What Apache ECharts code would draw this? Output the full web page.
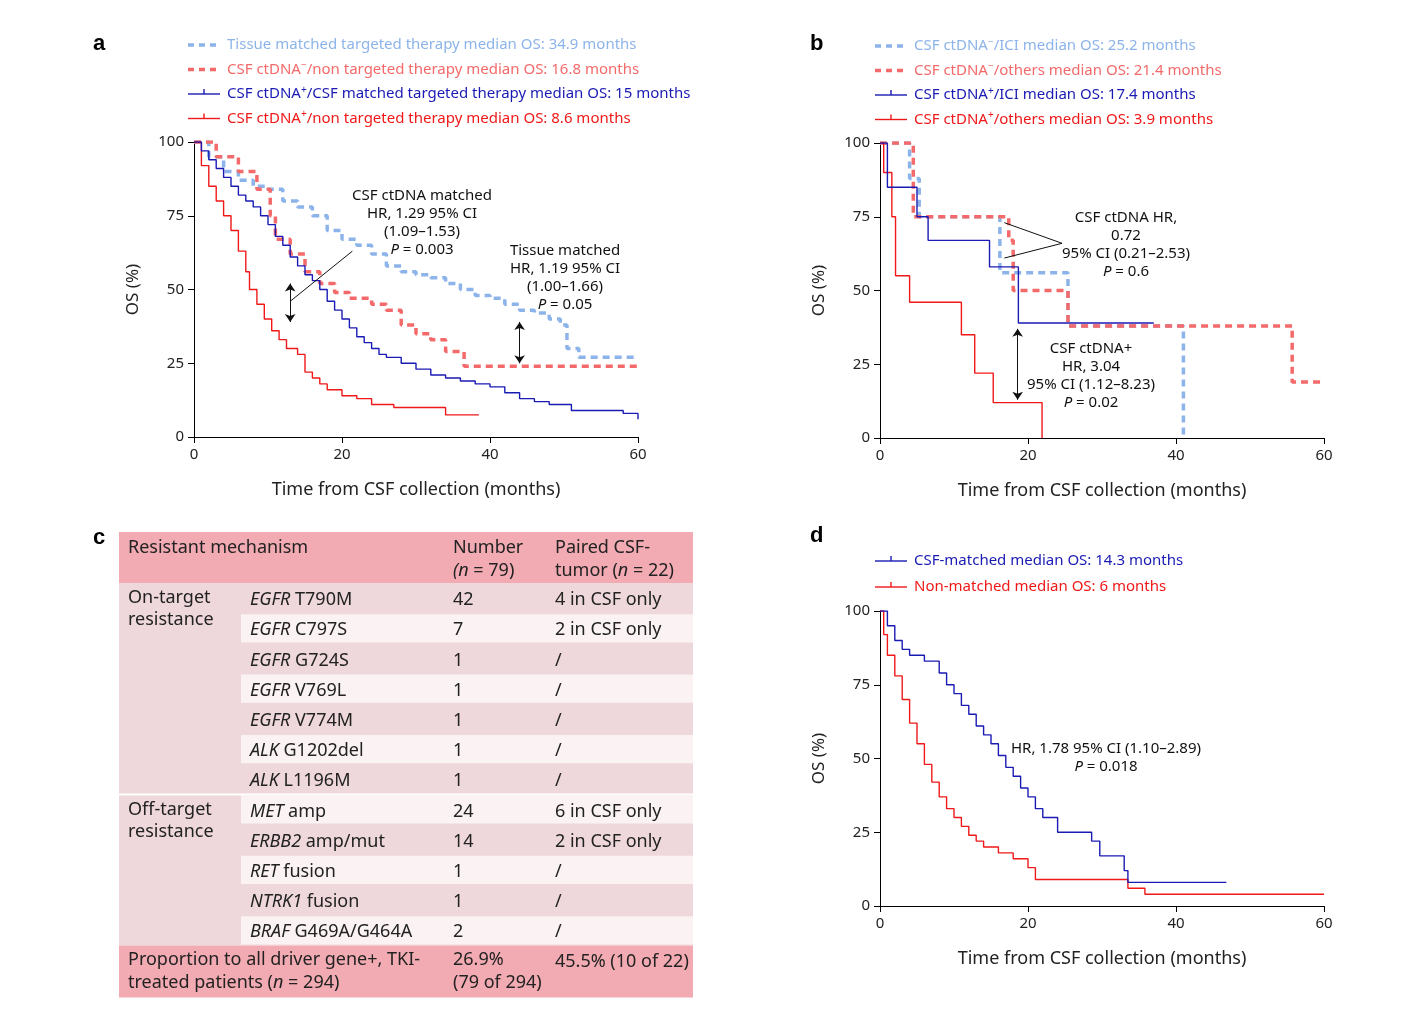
<!DOCTYPE html>
<html><head><meta charset="utf-8">
<script src="https://cdn.jsdelivr.net/npm/echarts@6/dist/echarts.min.js"></script>
<style>html,body{margin:0;background:#fff}#c{width:1410px;height:1024px}</style>
</head><body><div id="c"></div>
<script>
// ---------- DATA ----------
// Panel a (time of drop, new OS %)
const aTissue = [[0,100],[2,95],[4,90],[6,87],[8,85],[10,84],[12,80],[14,78],[16,75],[18,70],[20,67],[22,65],[24,62],[26,58],[28,56],[30,55],[32,54],[34,52],[36,50],[38,48],[40,47],[42,45],[44,43],[46,42],[48,40],[49.5,38],[50.4,30],[52,27],[60,27]];
const aNegNon = [[0,100],[3,95],[6,90],[8.5,84],[10.3,75],[11,67],[13,62],[15,56],[17,52],[19,49],[21,47],[24,45],[26,43],[28,38],[30,35],[32,33],[34,29],[36.5,24],[60,24]];
const aPosMatched = [[0,100],[1,97],[2,94],[3,91],[4,88],[5,85],[6,82],[7,80],[8,78],[9,75],[10,72],[11,68],[12,65],[13,61],[14,58],[15,55],[16,53],[17,50],[18,46],[19,43],[20,40],[21,37],[22,34],[23,32],[24,30],[25,28],[26,27],[28,25],[30,23],[32,21],[34,20],[36,19],[38,18],[40,17],[42,15],[44,13],[46,12],[48,11],[51,9],[55,9],[58,8],[60,6]];
const aPosNon = [[0,100],[1,92],[2,85],[3,80],[4,75],[5,70],[6,63],[7,56],[7.5,50],[8.5,45],[9.5,40],[10.5,36],[11.5,33],[12.5,30],[14,28],[15,22],[16,20],[17,18],[18,16],[20,14],[22,13],[24,11],[27,10],[34,7.5],[38.5,7.5]];
// Panel b
const bNegICI = [[0,100],[4,88],[5.3,75],[16.2,56],[25.4,38],[41,0]];
const bNegOth = [[0,100],[4.5,75],[17.4,67],[18,50],[25.4,38],[55.7,19],[60,19]];
const bPosICI = [[0,100],[1,85],[5,75],[6.5,67],[14,67],[14.8,58],[18.7,39],[37,39]];
const bPosOth = [[0,100],[0.5,90],[1.6,75],[2.1,55],[4,46],[11,35],[12.8,22],[15.3,12],[21.9,0]];
// Panel d
const dMatched = [[0,100],[1,95],[2,90],[3,87],[4,85],[6,83],[8,79],[9,75],[10,72],[11,68],[12,65],[13,61],[14,58],[15,55],[16,51],[17,47],[18,44],[19,40],[20,37],[21,33],[22,30],[24,25],[28.6,22],[29.7,17],[33,12],[33.5,8],[46.8,8]];
const dNon = [[0,100],[0.5,92],[1,85],[2,78],[3,70],[4,62],[5,55],[6,48],[7,42],[8,37],[9,33],[10,30],[11,27],[12,24],[13,22],[14,20],[16,18],[18,16],[20,13],[21,9],[33.5,6],[35.8,4],[60,4]];

const xTicks = [0,20,40,60];
const yTicks = [0,25,50,75,100];

const legendA = ['{n|Tissue matched targeted therapy median OS: 34.9 months}',
  '{n|CSF ctDNA}{s|−}{n|/non targeted therapy median OS: 16.8 months}',
  '{n|CSF ctDNA}{s|+}{n|/CSF matched targeted therapy median OS: 15 months}',
  '{n|CSF ctDNA}{s|+}{n|/non targeted therapy median OS: 8.6 months}'];
const legendB = ['{n|CSF ctDNA}{s|−}{n|/ICI median OS: 25.2 months}',
  '{n|CSF ctDNA}{s|−}{n|/others median OS: 21.4 months}',
  '{n|CSF ctDNA}{s|+}{n|/ICI median OS: 17.4 months}',
  '{n|CSF ctDNA}{s|+}{n|/others median OS: 3.9 months}'];
const legendD = ['CSF-matched median OS: 14.3 months','Non-matched median OS: 6 months'];

const tableHeader = ['Resistant mechanism','{n|Number}\n{i|(n}{n| = 79)}','{n|Paired CSF-}\n{n|tumor (}{i|n}{n| = 22)}'];
const tableGroups = [['On-target\nresistance',0,7],['Off-target\nresistance',7,5]];
const tableRows = [
  ['EGFR',' T790M','42','4 in CSF only'],
  ['EGFR',' C797S','7','2 in CSF only'],
  ['EGFR',' G724S','1','/'],
  ['EGFR',' V769L','1','/'],
  ['EGFR',' V774M','1','/'],
  ['ALK',' G1202del','1','/'],
  ['ALK',' L1196M','1','/'],
  ['MET',' amp','24','6 in CSF only'],
  ['ERBB2',' amp/mut','14','2 in CSF only'],
  ['RET',' fusion','1','/'],
  ['NTRK1',' fusion','1','/'],
  ['BRAF',' G469A/G464A','2','/']];
const tableFooter = ['{n|Proportion to all driver gene+, TKI-}\n{n|treated patients (}{i|n}{n| = 294)}','26.9%\n(79 of 294)','45.5% (10 of 22)'];

// ---------- STYLE ----------
const F = 'Noto Sans';
const C = {lb:'#8db4ea', ls:'#f46a6a', db:'#1a1ab4', rd:'#f01818'};

const grids = [
  {left:194, top:142, width:444, height:295},
  {left:880, top:143, width:444, height:295},
  {left:880, top:611, width:444, height:295}];

function xAx(i){return {gridIndex:i,type:'value',min:0,max:60,interval:20,
  axisLine:{lineStyle:{color:'#000',width:1}},axisTick:{length:6,lineStyle:{color:'#000'}},
  splitLine:{show:false},axisLabel:{color:'#222',fontSize:15,fontFamily:F,margin:10},
  name:'Time from CSF collection (months)',nameLocation:'middle',nameGap:44,
  nameTextStyle:{fontSize:18,fontFamily:F,color:'#222'}};}
function yAx(i){return {gridIndex:i,type:'value',min:0,max:100,interval:25,
  axisLine:{show:true,lineStyle:{color:'#000',width:1}},axisTick:{show:true,length:6,lineStyle:{color:'#000'}},
  splitLine:{show:false},axisLabel:{color:'#222',fontSize:15,fontFamily:F,margin:10},
  name:'OS (%)',nameLocation:'middle',nameGap:52,nameRotate:90,
  nameTextStyle:{fontSize:17,fontFamily:F,color:'#222'}};}

function ser(data,g,color,dashed,extra){
  return Object.assign({type:'line',step:'end',data:data,xAxisIndex:g,yAxisIndex:g,symbol:'none',
    lineStyle:{color:color,width:dashed?3.5:1.4,type:dashed?[7,5]:'solid'},silent:true,animation:false},extra||{});
}
function ml(lines){
  return {markLine:{silent:true,animation:false,label:{show:false},lineStyle:{color:'#111',width:1,type:'solid'},
    data:lines.map(l=>[{coord:l[0],symbol:l[2]?'arrow':'none',symbolSize:8},{coord:l[1],symbol:l[2]?'arrow':'none',symbolSize:8}])}};
}

const series = [
  ser(aTissue,0,C.lb,true),
  ser(aNegNon,0,C.ls,true),
  ser(aPosNon,0,C.rd,false),
  ser(aPosMatched,0,C.db,false,ml([[[13,52],[13,39],true],[[44,39],[44,25],true],[[21.4,63],[13,46],false]])),
  ser(bNegICI,1,C.lb,true),
  ser(bNegOth,1,C.ls,true),
  ser(bPosOth,1,C.rd,false),
  ser(bPosICI,1,C.db,false,ml([[[18.6,37],[18.6,13],true],[[24.6,66],[16.8,73],false],[[24.6,66],[16.8,61],false]])),
  ser(dNon,2,C.rd,false),
  ser(dMatched,2,C.db,false)
];

// ---------- GRAPHICS ----------
const G = [];
const rich = (col)=>({n:{fontSize:15,fontFamily:F,fill:col},s:{fontSize:10,fontFamily:F,fill:col,padding:[0,0,8,0]}});
function legend(x,y,texts,cols,dashed,step){
  texts.forEach((t,i)=>{
    const yy=y+i*step, col=cols[i];
    G.push({type:'line',shape:{x1:x,y1:yy,x2:x+32,y2:yy},style:{stroke:col,lineWidth:dashed[i]?3.5:1.4,lineDash:dashed[i]?[6,5]:null}});
    if(!dashed[i]) G.push({type:'line',shape:{x1:x+16,y1:yy-5,x2:x+16,y2:yy},style:{stroke:col,lineWidth:1.4}});
    G.push({type:'text',x:x+39,y:yy,style:{text:t,rich:rich(col),fill:col,fontSize:15,fontFamily:F,verticalAlign:'middle'}});
  });
}
legend(188,45,legendA,[C.lb,C.ls,C.db,C.rd],[1,1,0,0],24.5);
legend(875,46,legendB,[C.lb,C.ls,C.db,C.rd],[1,1,0,0],24.5);
legend(875,561,legendD,[C.db,C.rd],[0,0],26);

[['a',93,33],['b',810,33],['c',93,527],['d',810,525]].forEach(p=>G.push({type:'text',x:p[1],y:p[2],style:{text:p[0],fontSize:22,fontWeight:'bold',fontFamily:'Liberation Sans',fill:'#000'}}));

const annRich={n:{fontSize:15,fontFamily:F,fill:'#111',lineHeight:18},i:{fontSize:15,fontFamily:F,fontStyle:'italic',fill:'#111',lineHeight:18}};
function ann(x,y,txt){G.push({type:'text',x:x,y:y,style:{text:txt,rich:annRich,align:'center',fontSize:15,fontFamily:F,fill:'#111',lineHeight:18}});}
ann(422,187,'{n|CSF ctDNA matched}\n{n|HR, 1.29 95% CI}\n{n|(1.09–1.53)}\n{i|P}{n| = 0.003}');
ann(565,242,'{n|Tissue matched}\n{n|HR, 1.19 95% CI}\n{n|(1.00–1.66)}\n{i|P}{n| = 0.05}');
ann(1126,209,'{n|CSF ctDNA HR,}\n{n|0.72}\n{n|95% CI (0.21–2.53)}\n{i|P}{n| = 0.6}');
ann(1091,340,'{n|CSF ctDNA+}\n{n|HR, 3.04}\n{n|95% CI (1.12–8.23)}\n{i|P}{n| = 0.02}');
ann(1106,740,'{n|HR, 1.78 95% CI (1.10–2.89)}\n{i|P}{n| = 0.018}');

// table
const TX=119, TW=574, hTop=532, hH=51, rH=30.2, pinkH='#f2abb2', pinkR='#efd8db', light='#faf2f3';
const colX=[128,250,453,555];
const tR={n:{fontSize:18,fontFamily:F,fill:'#222',lineHeight:23},i:{fontSize:18,fontFamily:F,fontStyle:'italic',fill:'#222',lineHeight:23}};
G.push({type:'rect',shape:{x:TX,y:hTop,width:TW,height:hH},style:{fill:pinkH}});
G.push({type:'text',x:colX[0],y:hTop+16,style:{text:tableHeader[0],fontSize:18,fontFamily:F,fill:'#222',verticalAlign:'middle'}});
G.push({type:'text',x:colX[2],y:hTop+27,style:{text:tableHeader[1],rich:tR,verticalAlign:'middle'}});
G.push({type:'text',x:colX[3],y:hTop+27,style:{text:tableHeader[2],rich:tR,verticalAlign:'middle'}});
const bodyTop=hTop+hH;
G.push({type:'rect',shape:{x:TX,y:bodyTop,width:TW,height:rH*tableRows.length},style:{fill:pinkR}});
tableRows.forEach((r,k)=>{
  const y=bodyTop+k*rH;
  if(k%2===1) G.push({type:'rect',shape:{x:241,y:y+1,width:TX+TW-241,height:rH-2},style:{fill:light}});
  G.push({type:'text',x:colX[1],y:y+rH/2+2,style:{text:'{i|'+r[0]+'}{n|'+r[1]+'}',rich:tR,verticalAlign:'middle'}});
  G.push({type:'text',x:colX[2],y:y+rH/2+2,style:{text:r[2],fontSize:18,fontFamily:F,fill:'#222',verticalAlign:'middle'}});
  G.push({type:'text',x:colX[3],y:y+rH/2+2,style:{text:r[3],fontSize:18,fontFamily:F,fill:'#222',verticalAlign:'middle'}});
});
tableGroups.forEach(g=>{
  G.push({type:'text',x:colX[0],y:bodyTop+g[1]*rH+4,style:{text:g[0],fontSize:18,fontFamily:F,fill:'#222',lineHeight:22}});
  if(g[1]>0) G.push({type:'line',shape:{x1:TX,y1:bodyTop+g[1]*rH,x2:TX+TW,y2:bodyTop+g[1]*rH},style:{stroke:'#fff',lineWidth:2}});
});
const fTop=bodyTop+rH*tableRows.length;
G.push({type:'rect',shape:{x:TX,y:fTop,width:TW,height:52},style:{fill:pinkH}});
G.push({type:'text',x:colX[0],y:fTop+26,style:{text:tableFooter[0],rich:tR,verticalAlign:'middle'}});
G.push({type:'text',x:colX[2],y:fTop+26,style:{text:tableFooter[1],fontSize:18,fontFamily:F,fill:'#222',lineHeight:23,verticalAlign:'middle'}});
G.push({type:'text',x:colX[3],y:fTop+16,style:{text:tableFooter[2],fontSize:18,fontFamily:F,fill:'#222',verticalAlign:'middle'}});

const chart = echarts.init(document.getElementById('c'),null,{renderer:'canvas'});
chart.setOption({
  backgroundColor:'#fff', animation:false,
  grid:grids,
  xAxis:[xAx(0),xAx(1),xAx(2)],
  yAxis:[yAx(0),yAx(1),yAx(2)],
  series:series,
  graphic:G
});
</script></body></html>
